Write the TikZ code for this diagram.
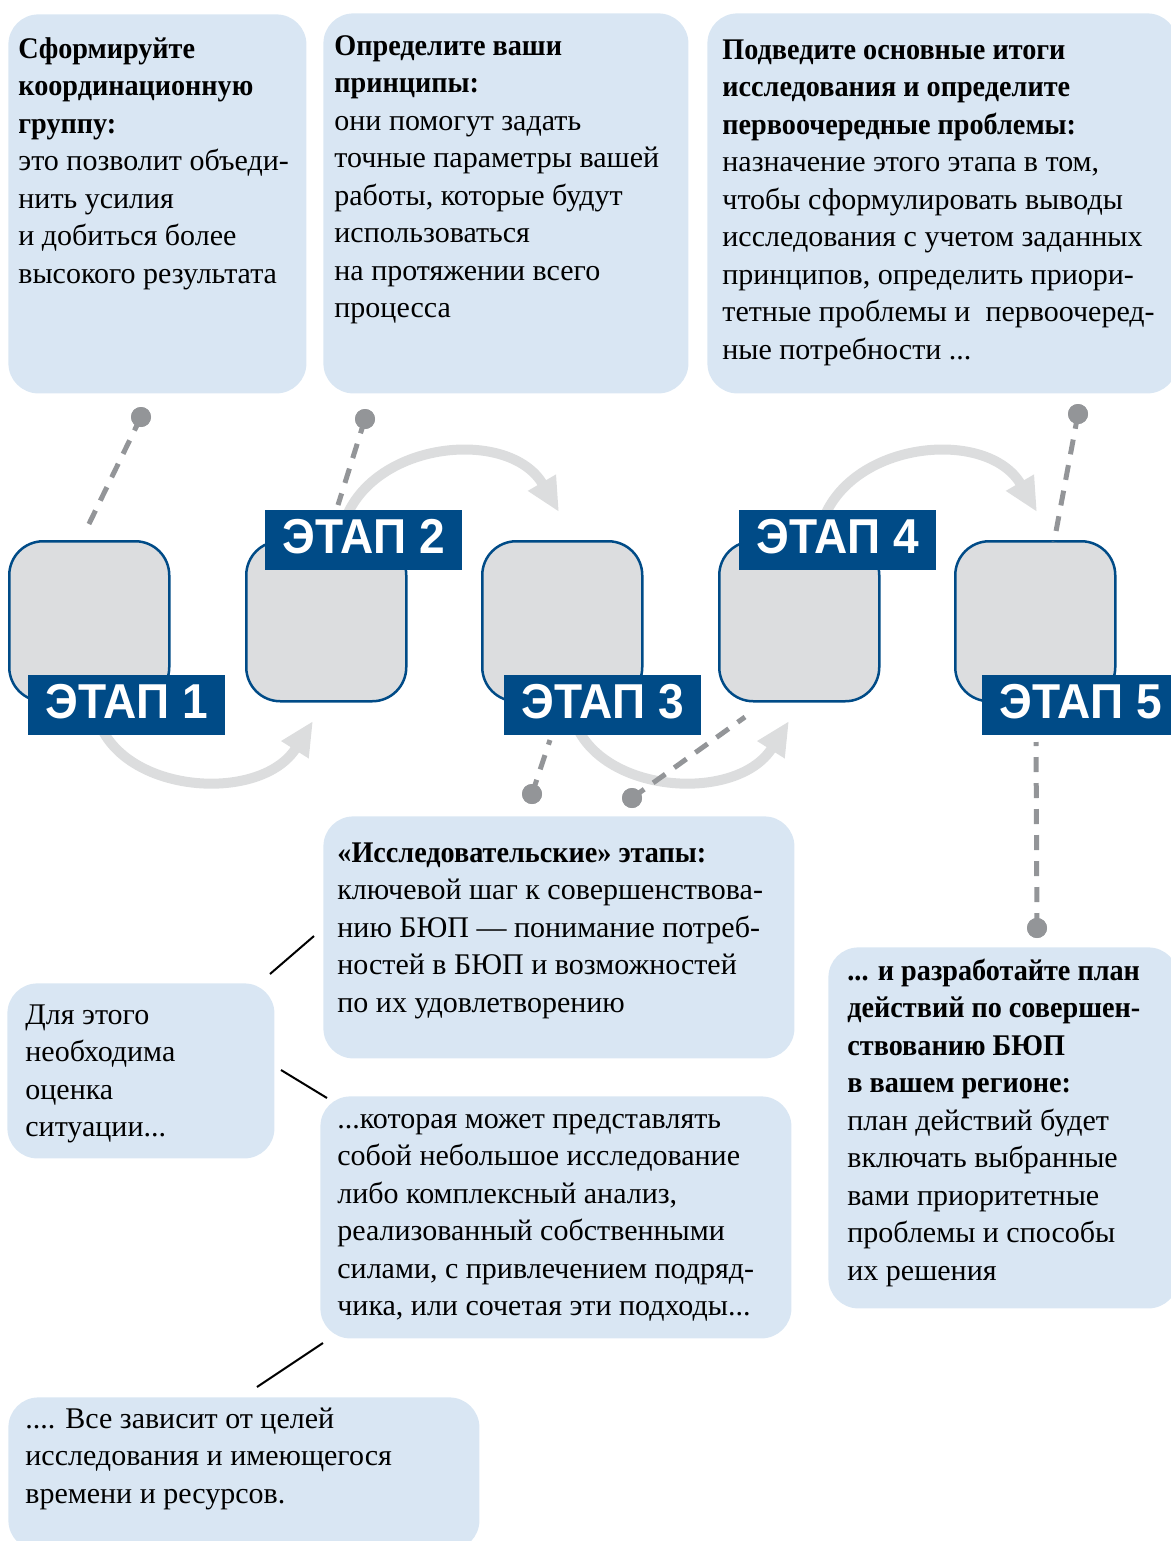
\documentclass[tikz,border=0pt]{standalone}
\usepackage{fontspec}
\usepackage{graphicx}
\setmainfont{Liberation Serif}[BoldFeatures={FakeStretch=0.94}]
\newfontfamily\labelfont{Liberation Sans}
\usetikzlibrary{arrows.meta}
\definecolor{boxblue}{RGB}{217,230,243}
\definecolor{stagegrey}{RGB}{220,221,223}
\definecolor{navy}{RGB}{0,75,135}
\definecolor{arrowgrey}{RGB}{220,221,222}
\definecolor{dashgrey}{RGB}{147,149,152}
\newcommand{\fl}{\rule{0pt}{13.1pt}}
\tikzset{
  tbox/.style={fill=boxblue, rounded corners=15pt, inner sep=0pt, anchor=north west},
  stagebox/.style={fill=stagegrey, draw=navy, line width=1.25pt, rounded corners=17pt,
    minimum width=80pt, minimum height=80pt, inner sep=0pt, anchor=north west},
  etap/.style={fill=navy, text=white, minimum width=98.5pt, minimum height=30pt,
    inner sep=0pt, anchor=north west, text depth=4pt,
    font=\labelfont\bfseries\fontsize{24.5}{27}\selectfont},
  txt/.style={anchor=north west, inner sep=0pt, align=left,
    font=\fontsize{15}{18.75}\selectfont},
  flow/.style={draw=arrowgrey, line width=5pt, -{Triangle[length=17pt,width=15pt]}},
  dashline/.style={draw=dashgrey, line width=2.5pt, dash pattern=on 7.5pt off 5.5pt},
  pin/.style={circle, fill=dashgrey, minimum size=10pt, inner sep=0pt},
  thinline/.style={draw=black, line width=1pt}
}
\newcommand{\etaptext}[1]{\scalebox{0.94}[1]{#1}}
\begin{document}
\begin{tikzpicture}[x=0.5pt,y=-0.5pt]
\useasboundingbox (0,0) rectangle (1171,1541);
\clip (0,0) rectangle (1171,1541);

% text boxes
\node[tbox, minimum width=149pt, minimum height=189.5pt] (bA) at (8,14) {};
\node[tbox, minimum width=182.5pt, minimum height=190pt] (bB) at (323,13) {};
\node[tbox, minimum width=235pt, minimum height=190pt] (bC) at (707,13) {};
\node[tbox, minimum width=235.5pt, minimum height=121pt] (bM1) at (323,816) {};
\node[tbox, minimum width=133.5pt, minimum height=87.5pt] (bM2) at (7,983) {};
\node[tbox, minimum width=235.5pt, minimum height=121pt] (bM3) at (320,1096) {};
\node[tbox, minimum width=175pt, minimum height=180.5pt] (bM4) at (828,947) {};
\node[tbox, minimum width=235.5pt, minimum height=76.5pt] (bM5) at (8,1397) {};

% texts
\node[txt] (tA) at (18,31.8) {\fl\textbf{Сформируйте}\\\textbf{координационную}\\\textbf{группу:}\\это позволит объеди-\\нить усилия\\и добиться более\\высокого результата};
\node[txt] (tB) at (334,28.8) {\fl\textbf{Определите ваши}\\\textbf{принципы:}\\они помогут задать\\точные параметры вашей\\работы, которые будут\\использоваться\\на протяжении всего\\процесса};
\node[txt] (tC) at (722,32.8) {\fl\textbf{Подведите основные итоги}\\\textbf{исследования и определите}\\\textbf{первоочередные проблемы:}\\назначение этого этапа в том,\\чтобы сформулировать выводы\\исследования с учетом заданных\\принципов, определить приори-\\тетные проблемы и~ первоочеред-\\ные потребности ...};
\node[txt] (tM1) at (337,835.8) {\fl\textbf{«Исследовательские» этапы:}\\ключевой шаг к совершенствова-\\нию БЮП — понимание потреб-\\ностей в БЮП и возможностей\\по их удовлетворению};
\node[txt] (tM2) at (25,997.8) {\fl Для этого\\необходима\\оценка\\ситуации...};
\node[txt] (tM3) at (337,1101.8) {\fl...которая может представлять\\собой небольшое исследование\\либо комплексный анализ,\\реализованный собственными\\силами, с привлечением подряд-\\чика, или сочетая эти подходы...};
\node[txt] (tM4) at (847,953.8) {\fl\textbf{... и разработайте план}\\\textbf{действий по совершен-}\\\textbf{ствованию БЮП}\\\textbf{в вашем регионе:}\\план действий будет\\включать выбранные\\вами приоритетные\\проблемы и способы\\их решения};
\node[txt] (tM5) at (25,1401.8) {\fl.... Все зависит от целей\\исследования и имеющегося\\времени и ресурсов.};

% thin black connectors
\coordinate (l1a) at (270,974); \coordinate (l1b) at (314,936);
\coordinate (l2a) at (281,1070); \coordinate (l2b) at (327,1098);
\coordinate (l3a) at (257,1387); \coordinate (l3b) at (323,1343);
\draw[thinline] (l1a) -- (l1b);
\draw[thinline] (l2a) -- (l2b);
\draw[thinline] (l3a) -- (l3b);

% flow arrows
\coordinate (a1s) at (100,725); \coordinate (a1e) at (313,721);
\coordinate (a2s) at (345,520); \coordinate (a2e) at (559,512);
\coordinate (a3s) at (576,725); \coordinate (a3e) at (789,721);
\coordinate (a4s) at (823,520); \coordinate (a4e) at (1037,512);
\draw[flow] (a1s) .. controls (130,795) and (262,802) .. (a1e);
\draw[flow] (a2s) .. controls (375,440) and (510,428) .. (a2e);
\draw[flow] (a3s) .. controls (606,795) and (738,802) .. (a3e);
\draw[flow] (a4s) .. controls (853,440) and (988,428) .. (a4e);

% stage boxes
\node[stagebox] (s1) at (8,540) {};
\node[stagebox] (s2) at (245,540) {};
\node[stagebox] (s3) at (481,540) {};
\node[stagebox] (s4) at (718,540) {};
\node[stagebox] (s5) at (954,540) {};

% dashed callouts
\coordinate (c1) at (87,528);
\coordinate (c2) at (338,505);
\coordinate (c3) at (550,740);
\coordinate (c4) at (745,717);
\coordinate (c5) at (1054,542);
\coordinate (c6) at (1036,742);
\node[pin] (d1) at (141,417) {};
\node[pin] (d2) at (365,419) {};
\node[pin] (d3) at (532,794) {};
\node[pin] (d4) at (632,798) {};
\node[pin] (d5) at (1078,414) {};
\node[pin] (d6) at (1037,928) {};
\draw[dashline] (d1.center) -- (c1);
\draw[dashline] (d2.center) -- (c2);
\draw[dashline] (d3.center) -- (c3);
\draw[dashline] (d4.center) -- (c4);
\draw[dashline] (d5.center) -- (c5);
\draw[dashline] (d6.center) -- (c6);
\foreach \d in {d1,d2,d3,d4,d5,d6} \fill[dashgrey] (\d) circle (5pt);

% stage labels
\node[etap] (e1) at (28,675) {\etaptext{ЭТАП 1}};
\node[etap] (e2) at (265,510) {\etaptext{ЭТАП 2}};
\node[etap] (e3) at (504,675) {\etaptext{ЭТАП 3}};
\node[etap] (e4) at (739,510) {\etaptext{ЭТАП 4}};
\node[etap] (e5) at (982,675) {\etaptext{ЭТАП 5}};
\end{tikzpicture}
\end{document}
